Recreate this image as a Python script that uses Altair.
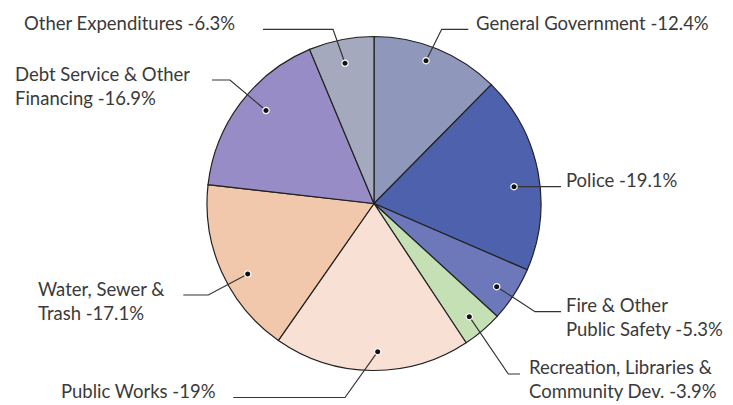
import altair as alt
import pandas as pd

# ---- data ----
categories = ["General Government", "Police", "Fire & Other Public Safety",
              "Recreation, Libraries & Community Dev.", "Public Works",
              "Water, Sewer & Trash", "Debt Service & Other Financing",
              "Other Expenditures"]
values = [12.4, 19.1, 5.3, 3.9, 19.0, 17.1, 16.9, 6.3]
labels = ["General Government -12.4%", "Police -19.1%",
          "Fire & Other\nPublic Safety -5.3%",
          "Recreation, Libraries &\nCommunity Dev. -3.9%",
          "Public Works -19%", "Water, Sewer &\nTrash -17.1%",
          "Debt Service & Other\nFinancing -16.9%", "Other Expenditures -6.3%"]
colors = ["#8f97bb", "#4e61ad", "#6d78bb", "#c6e0b5", "#f8e0d4",
          "#f1c8ab", "#978cc5", "#a4a9be"]

# ---- layout (page pixel coordinates) ----
center = (374, 203.5)
radius = 167
dot_xy = [(426, 60.7), (514, 186.7), (496.7, 286.7), (469.3, 316.7),
          (377.7, 351.7), (247.7, 274), (266, 110.5), (345, 63.3)]
elbow_xy = [(441.7, 29.3), (514, 186.7), (535, 311.7), (508.3, 374),
            (345, 397.5), (208.3, 295), (230, 80), (333, 29.3)]
end_xy = [(468.3, 29.3), (561, 186.7), (561, 311.7), (520, 374),
          (233.3, 397.5), (183.3, 295), (212, 80), (263, 29.3)]
label_xy = [(476, 29.5), (566, 187), (566, 311.5), (529, 373.5),
            (61, 397.5), (38, 295.5), (15, 81), (24, 29.5)]

W, H = 717, 393
xs = alt.Scale(domain=[8, 8 + W], nice=False, zero=False)
ys = alt.Scale(domain=[8, 8 + H], nice=False, zero=False, reverse=True)

pie_df = pd.DataFrame({"cat": categories, "val": values,
                       "idx": list(range(len(categories))),
                       "cx": center[0], "cy": center[1]})

line_rows = []
for i, c in enumerate(categories):
    for j, p in enumerate([dot_xy[i], elbow_xy[i], end_xy[i]]):
        line_rows.append({"cat": c, "seq": j, "x": p[0], "y": p[1]})
line_df = pd.DataFrame(line_rows)

dot_df = pd.DataFrame({"cat": categories,
                       "x": [p[0] for p in dot_xy], "y": [p[1] for p in dot_xy]})
lab_df = pd.DataFrame({"cat": categories, "label": labels,
                       "x": [p[0] for p in label_xy], "y": [p[1] for p in label_xy]})

pie = alt.Chart(pie_df).mark_arc(outerRadius=radius, stroke="#222222",
                                 strokeWidth=1.2).encode(
    theta=alt.Theta("val:Q", stack=True),
    order=alt.Order("idx:Q"),
    color=alt.Color("cat:N", scale=alt.Scale(domain=categories, range=colors),
                    legend=None),
    x=alt.X("cx:Q", scale=xs, axis=None),
    y=alt.Y("cy:Q", scale=ys, axis=None),
)

lines = alt.Chart(line_df).mark_line(color="#333333", strokeWidth=1.2).encode(
    x=alt.X("x:Q", scale=xs, axis=None),
    y=alt.Y("y:Q", scale=ys, axis=None),
    detail="cat:N",
    order="seq:Q",
)

dots = alt.Chart(dot_df).mark_point(filled=True, size=40, color="#111111",
                                    stroke="white", strokeWidth=1.2,
                                    opacity=1).encode(
    x=alt.X("x:Q", scale=xs, axis=None),
    y=alt.Y("y:Q", scale=ys, axis=None),
)

texts = alt.Chart(lab_df).mark_text(align="left", baseline="alphabetic",
                                    lineBreak="\n", lineHeight=24,
                                    font="Lato", fontSize=18.5,
                                    color="#3a3a3a").encode(
    x=alt.X("x:Q", scale=xs, axis=None),
    y=alt.Y("y:Q", scale=ys, axis=None),
    text="label:N",
)

chart = alt.layer(pie, lines, dots, texts).properties(
    width=W, height=H, autosize=alt.AutoSizeParams(type="none"), padding=0
).configure_view(stroke=None)

chart.save("out.html", embed_options={"renderer": "svg", "actions": False})
